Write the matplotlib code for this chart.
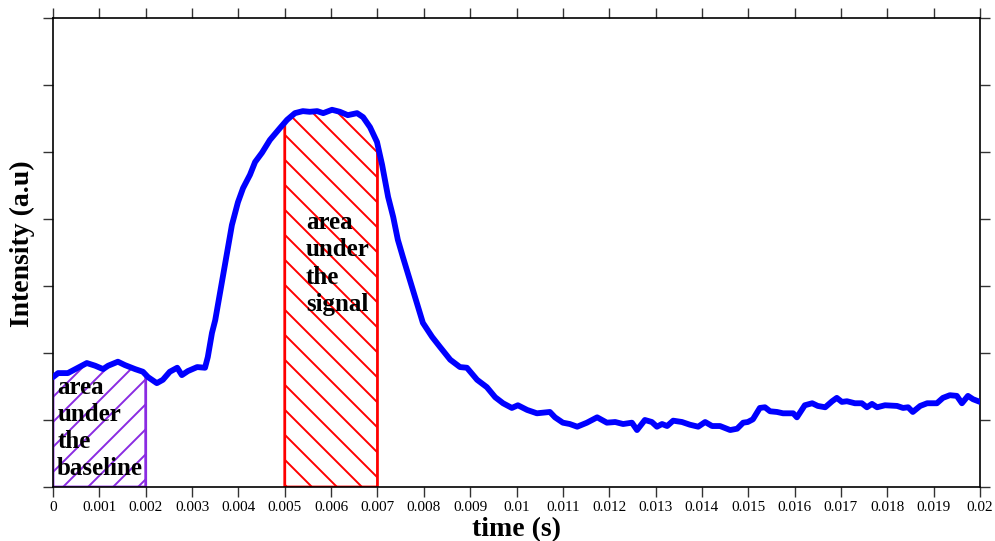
import numpy as np
import matplotlib
matplotlib.use("Agg")
import matplotlib.pyplot as plt

# time in ms (converted to s below) and intensity (a.u.)
t_ms = [0.00, 0.11, 0.32, 0.54, 0.73, 0.91, 1.08, 1.19, 1.40, 1.55, 1.77, 1.94, 2.05,
        2.24, 2.37, 2.52, 2.68, 2.78, 2.91, 3.11, 3.28, 3.34, 3.43, 3.50, 3.69, 3.86,
        3.99, 4.10, 4.25, 4.36, 4.51, 4.68, 4.90, 5.05, 5.22, 5.39, 5.54, 5.70, 5.83,
        6.02, 6.19, 6.36, 6.56, 6.69, 6.84, 6.99, 7.10, 7.23, 7.34, 7.44, 7.55, 7.70,
        7.85, 7.98, 8.18, 8.35, 8.57, 8.78, 8.93, 9.15, 9.36, 9.54, 9.71, 9.90, 10.03,
        10.23, 10.44, 10.72, 10.83, 11.00, 11.15, 11.31, 11.52, 11.74, 11.95, 12.13,
        12.30, 12.49, 12.60, 12.77, 12.92, 13.03, 13.14, 13.25, 13.38, 13.57, 13.74,
        13.92, 14.07, 14.22, 14.39, 14.61, 14.76, 14.89, 14.99, 15.10, 15.25, 15.36,
        15.47, 15.62, 15.75, 15.97, 16.05, 16.22, 16.38, 16.50, 16.66, 16.81, 16.91,
        17.02, 17.13, 17.30, 17.45, 17.56, 17.67, 17.78, 17.95, 18.21, 18.34, 18.45,
        18.55, 18.71, 18.86, 19.07, 19.20, 19.35, 19.50, 19.61, 19.74, 19.85, 20.00]
intensity = [1.64, 1.70, 1.70, 1.78, 1.85, 1.81, 1.76, 1.81, 1.87, 1.82, 1.76, 1.72, 1.64,
             1.55, 1.60, 1.72, 1.78, 1.67, 1.73, 1.79, 1.78, 1.94, 2.30, 2.49, 3.24, 3.91,
             4.25, 4.46, 4.66, 4.85, 4.99, 5.18, 5.36, 5.48, 5.58, 5.61, 5.60, 5.61, 5.58,
             5.63, 5.60, 5.55, 5.58, 5.52, 5.37, 5.15, 4.81, 4.33, 4.03, 3.69, 3.43, 3.09,
             2.75, 2.45, 2.24, 2.09, 1.90, 1.79, 1.78, 1.60, 1.49, 1.34, 1.25, 1.18, 1.22,
             1.15, 1.10, 1.12, 1.04, 0.96, 0.94, 0.90, 0.96, 1.04, 0.96, 0.97,
             0.94, 0.96, 0.85, 1.00, 0.97, 0.90, 0.94, 0.91, 0.99, 0.97, 0.93,
             0.90, 0.97, 0.91, 0.91, 0.85, 0.87, 0.96, 0.97, 1.01, 1.18, 1.19,
             1.13, 1.12, 1.10, 1.10, 1.04, 1.22, 1.25, 1.21, 1.19, 1.28, 1.33,
             1.27, 1.28, 1.25, 1.25, 1.19, 1.24, 1.19, 1.22, 1.21, 1.18, 1.19,
             1.12, 1.21, 1.25, 1.25, 1.33, 1.37, 1.36, 1.25, 1.36, 1.31, 1.27]

baseline_range = (0.0, 0.002)
signal_range = (0.005, 0.007)
x_ticks = [i / 1000 for i in range(21)]
y_ticks = [0, 1, 2, 3, 4, 5, 6, 7]

t = np.array(t_ms) / 1000.0
y = np.array(intensity)

DPI = 75
S = 100 / DPI  # keep pixel sizes as designed for 100 dpi

plt.rcParams['hatch.linewidth'] = 1.4 * S
serif = ['Liberation Serif', 'DejaVu Serif']

fig = plt.figure(figsize=(995 / DPI, 541 / DPI), dpi=DPI)
ax = fig.add_axes([53 / 995, 54 / 541, 927 / 995, 469 / 541])


def region(a, b):
    mask = (t > a) & (t < b)
    xs = np.concatenate([[a], t[mask], [b]])
    ys = np.concatenate([[np.interp(a, t, y)], y[mask], [np.interp(b, t, y)]])
    return xs, ys


xb, yb = region(*baseline_range)
ax.fill_between(xb, 0, yb, facecolor='none', edgecolor='#8a2be2', hatch='/', linewidth=2 * S, zorder=2)
xs, ys = region(*signal_range)
ax.fill_between(xs, 0, ys, facecolor='none', edgecolor='#ff0000', hatch='\\', linewidth=2 * S, zorder=2)

ax.plot(t, y, color='#0000ff', linewidth=4.2 * S, solid_capstyle='round', solid_joinstyle='round', zorder=3)

ax.text(0.00009, 1.66, 'area\nunder\nthe\nbaseline', family=serif, fontweight='bold',
        fontsize=18 * S, va='top', ha='left', linespacing=1.22, zorder=4)
ax.text(0.00546, 4.12, 'area\nunder\nthe\nsignal', family=serif, fontweight='bold',
        fontsize=18 * S, va='top', ha='left', linespacing=1.24, zorder=4)

ax.set_xlim(0, 0.02)
ax.set_ylim(0, 7)
ax.set_xticks(x_ticks)
ax.set_xticklabels([f"{v:g}" for v in x_ticks], family=serif, fontsize=11 * S)
ax.set_yticks(y_ticks)
ax.set_yticklabels([])
ax.tick_params(axis='both', direction='out', length=7 * S, width=1 * S, top=True, right=True,
               labeltop=False, labelright=False, color='#333333')
ax.tick_params(axis='x', pad=3 * S)

ax.set_xlabel('time (s)', family=serif, fontweight='bold', fontsize=20 * S)
ax.xaxis.set_label_coords(0.5, -0.064)
ax.set_ylabel('Intensity (a.u)', family=serif, fontweight='bold', fontsize=20 * S)
ax.yaxis.set_label_coords(-0.019, 0.518)

for s in ax.spines.values():
    s.set_linewidth(1.2 * S)

fig.savefig('out.png', dpi=DPI)
